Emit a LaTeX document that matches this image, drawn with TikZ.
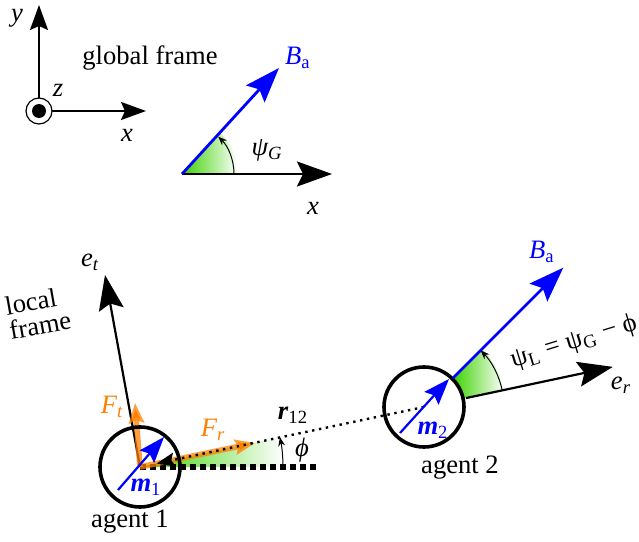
\documentclass[tikz,border=0pt]{standalone}
\usepackage{fontspec}
\setmainfont{Liberation Serif}
\usetikzlibrary{arrows.meta}
\definecolor{vecblue}{RGB}{0,0,255}
\definecolor{forceorange}{RGB}{255,128,0}
\definecolor{wedgegreen}{RGB}{60,210,0}
\tikzset{
  axis/.style={line width=1pt, -{Stealth[length=12.5pt,width=9pt,inset=2pt]}},
  bigaxis/.style={line width=1.1pt, -{Stealth[length=17.5pt,width=12.5pt,inset=3pt]}},
  field/.style={vecblue, line width=1.4pt, -{Stealth[length=17.5pt,width=12.5pt,inset=3pt]}},
  moment/.style={vecblue, line width=1.1pt, -{Stealth[length=13pt,width=9.5pt,inset=2pt]}},
  force/.style={forceorange, line width=2.8pt, draw opacity=.75, -{Stealth[length=10pt,width=7.5pt,inset=1.5pt]}},
  angarrow/.style={line width=0.5pt, -{Stealth[length=4.5pt,width=3.5pt]}},
  agent/.style={draw, circle, line width=1.8pt, minimum size=40pt, inner sep=0pt},
  fade/.style={left color=wedgegreen, right color=white},
  lbl/.style={inner sep=1pt},
}
\newcommand{\lo}[1]{\textsubscript{#1}}
\begin{document}
\begin{tikzpicture}[x=0.5pt, y=0.5pt, font=\fontsize{13.3}{15}\selectfont, line join=round]
		\useasboundingbox (0,0) rectangle (639,542);
		% global frame
		\coordinate (O1) at (39,431);
		\coordinate (O1y) at (39,537);
		\coordinate (O1x) at (146,431);
		\draw[axis] (O1) -- (O1y);
		\draw[axis] (O1) -- (O1x);
		\draw[line width=0.6pt, fill=white] (O1) circle (13);
		\fill (O1) circle (7);
		\node[lbl] (ylab) at (17,524) {\textit{y}};
		\node[lbl] (zlab) at (58,452) {\textit{z}};
		\node[lbl] (xlab) at (127,407) {\textit{x}};
		\node[lbl] (gtitle) at (150,484) {global frame};
		% global angle
		\coordinate (O2) at (182,368);
		\coordinate (O2x) at (332,368);
		\coordinate (O2B) at (279,474);
		\shade[fade] (O2) -- ++(0:56) arc (0:47.8:56) -- cycle;
		\draw[angarrow] ([shift={(0:52)}]O2) arc (0:46:52);
		\draw[bigaxis] (O2) -- (O2x);
		\draw[field] (O2) -- (O2B);
		\node[lbl] (x2lab) at (313,334) {\textit{x}};
		\node[lbl, vecblue] (Bglab) at (298,484) {\textit{B}\lo{a}};
		\node[lbl] (psiG) at (267,392) {\textit{ψ\lo{G}}};
		% agent 1
		\coordinate (A1) at (140,75);
		\coordinate (A2) at (424,135);
		\coordinate (et) at (105,267);
		\coordinate (Ft) at (135,139);
		\coordinate (Fr) at (255,99);
		\coordinate (rtip) at ([shift={(12:17)}]A1);
		\coordinate (hzend) at (318,75);
		\shade[fade] (A1) -- ++(0:143) arc (0:12:143) -- cycle;
		\draw[line width=3pt, dash pattern=on 3pt off 2pt] (A1) -- (hzend);
		\draw[angarrow] ([shift={(0:143)}]A1) arc (0:12:143);
		\draw[bigaxis] (A1) -- (et);
		\draw[force] (A1) -- (Ft);
		\draw[force] (A1) -- (Fr);
		% agent 2
		\shade[fade] ([shift={(12:41)}]A2) -- ([shift={(12:82)}]A2) arc (12:45:82) -- ([shift={(45:41)}]A2) arc (45:12:41) -- cycle;
		\draw[angarrow] ([shift={(12:80)}]A2) arc (12:45:80);
		\draw[line width=1.2pt, dash pattern=on 1.2pt off 2.3pt, -{Stealth[length=9pt,width=7pt,inset=1.5pt]}] (A2) -- (rtip);
		\node[agent] (ag1) at (A1) {};
		\node[agent] (ag2) at (A2) {};
		\coordinate (m1a) at (118,52);
		\coordinate (m1b) at (164,105);
		\coordinate (m2a) at (400,109);
		\coordinate (m2b) at (449,163);
		\draw[moment] (m1a) -- (m1b);
		\draw[moment] (m2a) -- (m2b);
		\draw[field] ([shift={(45:41)}]A2) -- ([shift={(45:197)}]A2);
		\draw[bigaxis] ([shift={(12:43)}]A2) -- ([shift={(12:193)}]A2);
		% labels
		\node[lbl] (etlab) at (90,280) {\textit{e\lo{t}}};
		\node[lbl, rotate=10, align=left, font=\fontsize{13.3}{12.5}\selectfont] (lframe) at (38,229) {local\\frame};
		\node[lbl, forceorange] (Ftlab) at (112,135) {\textit{F\lo{t}}};
		\node[lbl, forceorange] (Frlab) at (213,112) {\textit{F\lo{r}}};
		\node[lbl] (rlab) at (293,127) {\textbf{\textit{r}}\lo{12}};
		\node[lbl] (philab) at (302,92) {\textit{ϕ}};
		\node[lbl, vecblue] (m1lab) at (146,55) {\textbf{\textit{m}}\lo{1}};
		\node[lbl] (ag1lab) at (130,20) {agent 1};
		\node[lbl, vecblue] (m2lab) at (433,112) {\textbf{\textit{m}}\lo{2}};
		\node[lbl] (ag2lab) at (460,74) {agent 2};
		\node[lbl, vecblue] (Bllab) at (542,290) {\textit{B}\lo{a}};
		\node[lbl] (erlab) at (621,157) {\textit{e\lo{r}}};
		\node[lbl, rotate=17] (psiL) at (574,200) {ψ\lo{L} = ψ\lo{G} − ϕ};
\end{tikzpicture}
\end{document}
